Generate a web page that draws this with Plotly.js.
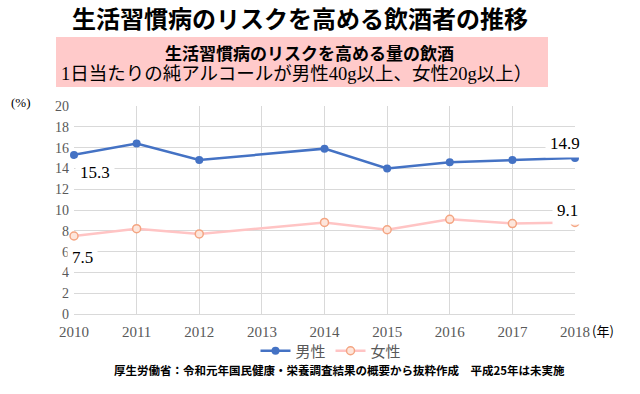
<!DOCTYPE html>
<html>
<head>
<meta charset="utf-8">
<script src="https://cdn.plot.ly/plotly-3.0.1.min.js"></script>
<style>html,body{margin:0;padding:0;background:#fff;}#chart{width:640px;height:394px;}</style>
</head>
<body>
<div id="chart"></div>
<script>
const years = [2010, 2011, 2012, 2014, 2015, 2016, 2017, 2018];
const maleValues = [15.3, 16.4, 14.8, 15.9, 14.0, 14.6, 14.8, 15.0];
const femaleValues = [7.5, 8.2, 7.7, 8.8, 8.1, 9.1, 8.7, 8.8];
const seriesNames = ['男性', '女性'];
const xTicks = [2010, 2011, 2012, 2013, 2014, 2015, 2016, 2017, 2018];
const yTicks = [0, 2, 4, 6, 8, 10, 12, 14, 16, 18, 20];
const firstLabels = ['15.3', '7.5'];
const lastLabels = ['14.9', '9.1'];
const titleText = '生活習慣病のリスクを高める飲酒者の推移';
const boxTitle = '生活習慣病のリスクを高める量の飲酒';
const boxLine = '1日当たりの純アルコールが男性40g以上、女性20g以上）';
const sourceText = '厚生労働省：令和元年国民健康・栄養調査結果の概要から抜粋作成　平成25年は未実施';

const L = 74, R = 575, T = 106, B = 314;
const px = x => (x - L) / (R - L);
const py = y => (B - y) / (B - T);

const serif = 'Liberation Serif, DejaVu Serif, Noto Sans CJK JP, serif';
const sans = 'Noto Sans CJK JP, sans-serif';

const traces = [
  {
    x: years, y: maleValues, name: seriesNames[0], type: 'scatter', mode: 'lines+markers',
    line: {color: '#4472C4', width: 2.5},
    marker: {color: '#4472C4', size: 8},
    cliponaxis: false
  },
  {
    x: years, y: femaleValues, name: seriesNames[1], type: 'scatter', mode: 'lines+markers',
    line: {color: '#FFC4C4', width: 2.5},
    marker: {color: '#FDE6DC', size: 8, line: {color: '#F4A582', width: 1.5}},
    cliponaxis: false
  }
];

const lastIdx = years.length - 1;
const annotations = [
  {xref: 'paper', yref: 'paper', x: px(300), y: py(17.5), text: '<b>' + titleText + '</b>', showarrow: false,
   font: {family: sans, size: 24, color: '#000'}, xanchor: 'center', yanchor: 'middle', borderpad: 0},
  {xref: 'paper', yref: 'paper', x: px(309), y: py(52), text: '<b>' + boxTitle + '</b>', showarrow: false,
   font: {family: sans, size: 17, color: '#000'}, xanchor: 'center', yanchor: 'middle'},
  {xref: 'paper', yref: 'paper', x: px(296), y: py(74), text: boxLine, showarrow: false,
   font: {family: serif, size: 18.5, color: '#000'}, xanchor: 'center', yanchor: 'middle'},
  {xref: 'paper', yref: 'paper', x: px(21), y: py(102), text: '(%)', showarrow: false,
   font: {family: serif, size: 13, color: '#000'}, xanchor: 'center', yanchor: 'middle'},
  {xref: 'paper', yref: 'paper', x: px(603), y: py(330), text: '(年)', showarrow: false,
   font: {family: sans, size: 13, color: '#000'}, xanchor: 'center', yanchor: 'middle'},
  {xref: 'paper', yref: 'paper', x: px(339), y: py(370), text: '<b>' + sourceText + '</b>', showarrow: false,
   font: {family: sans, size: 11.5, color: '#000'}, xanchor: 'center', yanchor: 'middle'},
  {x: years[0], y: maleValues[0], text: firstLabels[0], showarrow: false, xshift: 21, yshift: -18,
   bgcolor: '#fff', borderpad: 4, font: {family: serif, size: 17, color: '#000'}},
  {x: years[0], y: femaleValues[0], text: firstLabels[1], showarrow: false, xshift: 8, yshift: -21,
   bgcolor: '#fff', borderpad: 4, font: {family: serif, size: 17, color: '#000'}},
  {x: years[lastIdx], y: maleValues[lastIdx], text: lastLabels[0], showarrow: false, xshift: -10, yshift: 15,
   bgcolor: '#fff', borderpad: 4, font: {family: serif, size: 17, color: '#000'}},
  {x: years[lastIdx], y: femaleValues[lastIdx], text: lastLabels[1], showarrow: false, xshift: -8, yshift: 12,
   bgcolor: '#fff', borderpad: 4, font: {family: serif, size: 17, color: '#000'}}
];

const layout = {
  width: 640, height: 394,
  margin: {l: L, r: 640 - R, t: T, b: 394 - B, pad: 0},
  paper_bgcolor: '#fff', plot_bgcolor: '#fff',
  showlegend: true,
  legend: {orientation: 'h', x: px(331), y: py(351), xanchor: 'center', yanchor: 'middle',
           font: {family: sans, size: 15, color: '#595959'}, itemwidth: 30, traceorder: 'normal',
           tracegroupgap: 0, bgcolor: 'rgba(0,0,0,0)'},
  xaxis: {
    range: [2010, 2018], tickvals: xTicks, ticktext: xTicks.map(String),
    showgrid: true, gridcolor: '#D9D9D9', gridwidth: 1,
    zeroline: false, showline: true, linecolor: '#D9D9D9', linewidth: 1,
    ticks: '', tickfont: {family: serif, size: 15, color: '#595959'}, ticklabelstandoff: 4, fixedrange: true
  },
  yaxis: {
    range: [0, 20], tickvals: yTicks, ticktext: yTicks.map(String),
    showgrid: true, gridcolor: '#D9D9D9', gridwidth: 1,
    zeroline: false, showline: false,
    ticks: '', tickfont: {family: serif, size: 14, color: '#595959'}, ticklabelstandoff: 4, fixedrange: true
  },
  shapes: [
    {type: 'rect', xref: 'paper', yref: 'paper', x0: px(56), x1: px(548), y0: py(87), y1: py(37),
     fillcolor: '#FFCACA', line: {width: 0}, layer: 'below'}
  ],
  annotations: annotations
};

Plotly.newPlot('chart', traces, layout, {displayModeBar: false, staticPlot: true});
</script>
</body>
</html>
